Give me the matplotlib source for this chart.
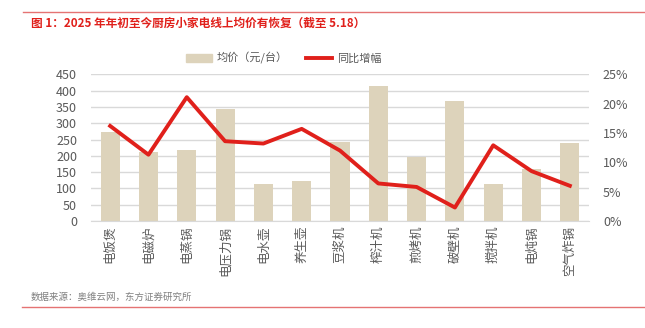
import matplotlib.pyplot as plt
from matplotlib.lines import Line2D
from matplotlib.ticker import MultipleLocator, FuncFormatter

plt.rcParams['font.family'] = ['Noto Sans CJK SC', 'DejaVu Sans']

categories = ["电饭煲", "电磁炉", "电蒸锅", "电压力锅", "电水壶", "养生壶", "豆浆机",
              "榨汁机", "煎烤机", "破壁机", "搅拌机", "电炖锅", "空气炸锅"]
avg_price = [272, 211, 218, 343, 113, 123, 243, 414, 196, 368, 114, 160, 240]
yoy_growth = [16.2, 11.3, 21.1, 13.6, 13.2, 15.7, 12.0, 6.4, 5.8, 2.3, 12.9, 8.5, 6.0]

title = "图 1：2025 年年初至今厨房小家电线上均价有恢复（截至 5.18）"
source = "数据来源：奥维云网，东方证券研究所"

BAR_COLOR = "#ddd3bb"
LINE_COLOR = "#e0201b"
TEXT_GRAY = "#595959"

W, H = 645, 328
fig = plt.figure(figsize=(W / 100, H / 100), dpi=100)
ax = fig.add_axes([91 / W, 1 - 221 / H, (589 - 91) / W, (221 - 74.3) / H])

x = range(len(categories))
ax.bar(x, avg_price, width=0.5, color=BAR_COLOR, zorder=2)
ax.set_xlim(-0.5, len(categories) - 0.5)
ax.set_ylim(0, 450)
ax.yaxis.set_major_locator(MultipleLocator(50))
ax.grid(axis="y", color="#d9d9d9", linewidth=1, zorder=0)
ax.set_axisbelow(True)
for s in ["top", "right", "left"]:
    ax.spines[s].set_visible(False)
ax.spines["bottom"].set_color("#d9d9d9")
ax.tick_params(axis="both", length=0, labelsize=9, labelcolor=TEXT_GRAY)
ax.tick_params(axis="y", pad=10)
ax.set_xticks(list(x))
ax.set_xticklabels(categories, rotation=90, fontsize=9, color=TEXT_GRAY, va="top")

ax2 = ax.twinx()
ax2.plot(x, yoy_growth, color=LINE_COLOR, linewidth=2.8, zorder=3)
ax2.set_ylim(0, 25)
ax2.yaxis.set_major_locator(MultipleLocator(5))
ax2.yaxis.set_major_formatter(FuncFormatter(lambda v, p: f"{v:.0f}%"))
for s in ax2.spines.values():
    s.set_visible(False)
ax2.tick_params(axis="y", length=0, labelsize=9, labelcolor=TEXT_GRAY, pad=10)

handles = [plt.Rectangle((0, 0), 1, 1, color=BAR_COLOR),
           Line2D([0], [0], color=LINE_COLOR, linewidth=2.8)]
fig.legend(handles, ["均价（元/台）", "同比增幅"], loc="center left",
           bbox_to_anchor=(180 / W, 1 - 58 / H), ncol=2, frameon=False,
           fontsize=8, labelcolor=TEXT_GRAY, handlelength=2.4, columnspacing=1.6,
           handletextpad=0.4, borderpad=0)

fig.add_artist(Line2D([23 / W, 1], [1 - 12 / H, 1 - 12 / H], color="#e57373", linewidth=1))
fig.add_artist(Line2D([22 / W, 1], [1 - 307 / H, 1 - 307 / H], color="#e57373", linewidth=1))
fig.text(31 / W, 1 - 23 / H, title, color="#e0201b", fontsize=8.4, fontweight="bold", va="center")
fig.text(31 / W, 1 - 297 / H, source, color="#7f7f7f", fontsize=6.8, va="center")

fig.savefig("out.png", dpi=100)
